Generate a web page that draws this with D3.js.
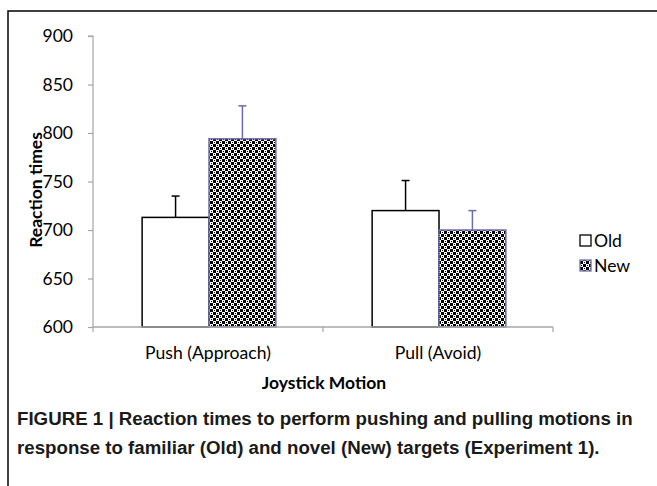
<!DOCTYPE html>
<html><head><meta charset="utf-8">
<script src="https://cdn.jsdelivr.net/npm/d3@7"></script>
<style>body{margin:0;background:#fff}svg{display:block}</style>
</head><body>
<script>
const categories = ["Push (Approach)", "Pull (Avoid)"];
const seriesNames = ["Old", "New"];
const oldValues = [713, 720];
const newValues = [794, 700];
const oldErrors = [22, 31];
const newErrors = [34, 20];
const yTicks = [600, 650, 700, 750, 800, 850, 900];
const captionLines = ["FIGURE 1 | Reaction times to perform pushing and pulling motions in",
                      "response to familiar (Old) and novel (New) targets (Experiment 1)."];

const W = 657, H = 486;
const svg = d3.select("body").append("svg").attr("width", W).attr("height", H);
const defs = svg.append("defs");
const pat = defs.append("pattern").attr("id","hatch").attr("patternUnits","userSpaceOnUse")
  .attr("width",6).attr("height",6);
pat.append("rect").attr("width",6).attr("height",6).attr("fill","#000");
pat.append("rect").attr("x",0).attr("y",0).attr("width",3).attr("height",3).attr("fill","#fff");
pat.append("rect").attr("x",3).attr("y",3).attr("width",3).attr("height",3).attr("fill","#fff");
pat.append("rect").attr("x",1).attr("y",1).attr("width",1).attr("height",1).attr("fill","#000");
pat.append("rect").attr("x",4).attr("y",4).attr("width",1).attr("height",1).attr("fill","#000");

// frame
svg.append("rect").attr("x",8).attr("y",11).attr("width",W).attr("height",H)
  .attr("fill","none").attr("stroke","#000").attr("stroke-width",1.5);

const m = {left:93, right:553, top:36, bottom:327};
const y = d3.scaleLinear().domain([600,900]).range([m.bottom, m.top]);
const x0 = d3.scaleBand().domain(categories).range([m.left, m.right]).paddingInner(0).paddingOuter(0);
const x1 = d3.scaleBand().domain(seriesNames).range([0, x0.bandwidth()]).paddingInner(0).paddingOuter(0.72);

const font = "Lato, 'Open Sans', sans-serif";
const data = categories.map((c,i)=>({cat:c, vals:[
  {s:"Old", v:oldValues[i], e:oldErrors[i]},
  {s:"New", v:newValues[i], e:newErrors[i]}]}));

const fills = {Old:"#fff", New:"url(#hatch)"};
const strokes = {Old:"#000", New:"#6c6caa"};

const g = svg.append("g");
data.forEach(d=>{
  d.vals.forEach(b=>{
    const bx = x0(d.cat) + x1(b.s) + 1;
    const bw = x1.bandwidth();
    g.append("rect").attr("x",bx).attr("y",y(b.v)).attr("width",bw).attr("height",y(600)-y(b.v))
      .attr("fill",fills[b.s]).attr("stroke",strokes[b.s]).attr("stroke-width",1.5);
    const cx = bx + bw/2;
    g.append("line").attr("x1",cx).attr("x2",cx).attr("y1",y(b.v)).attr("y2",y(b.v+b.e))
      .attr("stroke",strokes[b.s]).attr("stroke-width",1.5);
    g.append("line").attr("x1",cx-4).attr("x2",cx+4).attr("y1",y(b.v+b.e)).attr("y2",y(b.v+b.e))
      .attr("stroke",strokes[b.s]).attr("stroke-width",1.5);
  });
});

// y axis
const ya = svg.append("g").attr("transform",`translate(${m.left},0)`)
  .call(d3.axisLeft(y).tickValues(yTicks).tickSize(5).tickPadding(15));
ya.selectAll("path,line").attr("stroke","#a6a6a6").attr("stroke-width",1.2);
ya.select(".domain").attr("d",`M-5,${m.top}H0V${m.bottom}`);
ya.selectAll("text").attr("font-family",font).attr("font-size",17.5).attr("fill","#000");

// x axis
const xs = d3.scaleLinear().domain([0,2]).range([m.left,m.right]);
const xa = svg.append("g").attr("transform",`translate(0,${m.bottom})`);
xa.append("line").attr("x1",m.left).attr("x2",m.right).attr("stroke","#a6a6a6").attr("stroke-width",1.5);
[0,1,2].forEach(t=>xa.append("line").attr("x1",xs(t)).attr("x2",xs(t)).attr("y1",0).attr("y2",5)
  .attr("stroke","#a6a6a6").attr("stroke-width",1.2));
categories.forEach(c=>{
  xa.append("text").attr("x",x0(c)+x0.bandwidth()/2).attr("y",32).attr("text-anchor","middle")
    .attr("font-family",font).attr("font-size",17.6).text(c);
});

svg.append("text").attr("x",324).attr("y",389).attr("text-anchor","middle")
  .attr("font-family",font).attr("font-weight","bold").attr("font-size",17.5).text("Joystick Motion");
svg.append("text").attr("transform","translate(42,190) rotate(-90)").attr("text-anchor","middle")
  .attr("font-family",font).attr("font-weight","bold").attr("font-size",17.5).text("Reaction times");

// legend
const leg = svg.append("g").attr("transform","translate(580,0)");
[["Old",235],["New",260]].forEach(([s,ly])=>{
  leg.append("rect").attr("x",0).attr("y",ly).attr("width",11).attr("height",11)
    .attr("fill",fills[s]).attr("stroke",s==="Old"?"#000":"#6c6caa").attr("stroke-width",1.3);
  leg.append("text").attr("x",14).attr("y",ly+12).attr("font-family",font).attr("font-size",17.6).text(s);
});

// caption
captionLines.forEach((t,i)=>{
  svg.append("text").attr("x",17).attr("y",425+i*29).attr("font-family","'Liberation Sans', Arial, sans-serif")
    .attr("font-weight","bold").attr("font-size",18.7).attr("fill","#1a1a1a").text(t);
});
</script>
</body></html>
